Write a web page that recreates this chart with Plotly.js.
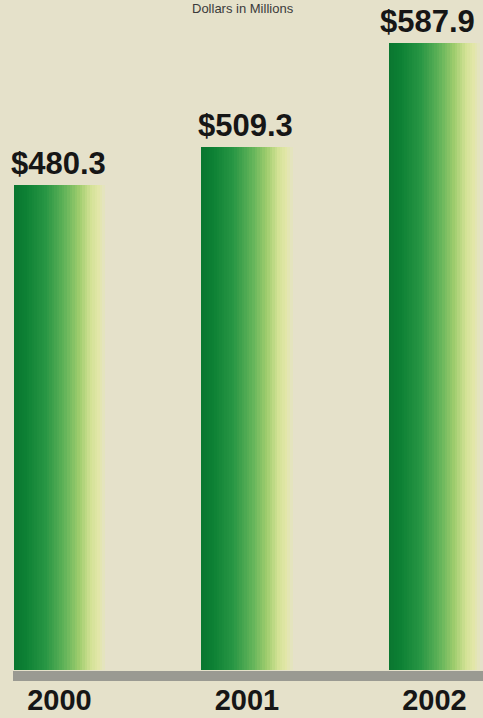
<!DOCTYPE html>
<html><head><meta charset="utf-8">
<script src="https://cdn.plot.ly/plotly-3.0.1.min.js"></script>
<style>html,body{margin:0;padding:0;background:#e5e1ca;}#chart{width:483px;height:718px;}</style>
</head><body><div id="chart"></div>
<script>
// ---- data ----
var categories = ['2000', '2001', '2002'];
var values = [480.3, 509.3, 587.9];
var valueLabels = ['$480.3', '$509.3', '$587.9'];
var chartTitle = 'Dollars in Millions';

// ---- style ----
var bg = '#e5e1ca';
var stops = [
  [0.00, [10, 118, 48]],
  [0.12, [12, 128, 52]],
  [0.35, [40, 150, 68]],
  [0.55, [95, 178, 88]],
  [0.72, [160, 205, 110]],
  [0.85, [212, 226, 150]],
  [0.93, [226, 230, 168]],
  [1.00, [228, 227, 196]]
];
function colorAt(t) {
  for (var i = 1; i < stops.length; i++) {
    if (t <= stops[i][0]) {
      var a = stops[i - 1], b = stops[i];
      var f = (t - a[0]) / (b[0] - a[0]);
      var c = a[1].map(function (v, k) { return Math.round(v + (b[1][k] - v) * f); });
      return 'rgb(' + c.join(',') + ')';
    }
  }
  return 'rgb(' + stops[stops.length - 1][1].join(',') + ')';
}

var xs = categories.map(function (c, i) { return i; });
var barW = 0.485;
var N = 36;
var traces = [];
for (var s = 0; s < N; s++) {
  traces.push({
    type: 'bar',
    x: xs,
    y: values,
    width: xs.map(function () { return barW / N * 1.08; }),
    offset: xs.map(function () { return -barW / 2 + s * barW / N; }),
    marker: { color: colorAt((s + 0.5) / N), line: { width: 0 } },
    hoverinfo: 'skip',
    showlegend: false
  });
}

var annotations = values.map(function (v, i) {
  return {
    x: xs[i], y: v, xref: 'x', yref: 'y',
    text: '<b>' + valueLabels[i] + '</b>',
    showarrow: false, yanchor: 'bottom', yshift: 2,
    xshift: i === 2 ? -7 : -1,
    font: { family: 'Liberation Sans, Arial, sans-serif', size: 31, color: '#161616' }
  };
});
annotations.push({
  x: 0.503, y: 1, xref: 'paper', yref: 'paper',
  text: chartTitle, showarrow: false, yanchor: 'top', yshift: 1,
  font: { family: 'Liberation Sans, Arial, sans-serif', size: 13, color: '#3a3a3a' }
});

var layout = {
  width: 483, height: 718,
  margin: { l: 0, r: 0, t: 0, b: 48 },
  paper_bgcolor: bg, plot_bgcolor: bg,
  barmode: 'overlay', bargap: 0,
  xaxis: {
    range: [-0.317, 2.259], tickvals: xs,
    ticktext: categories.map(function (c) { return '<b>' + c + '</b>'; }),
    showgrid: false, zeroline: false, showline: false, ticks: '',
    ticklabelstandoff: 10,
    tickfont: { family: 'Liberation Sans, Arial, sans-serif', size: 29, color: '#161616' },
    fixedrange: true
  },
  yaxis: {
    range: [112.8, 620.5], showgrid: false, zeroline: false, showline: false,
    showticklabels: false, ticks: '', fixedrange: true
  },
  shapes: [{
    type: 'rect', xref: 'paper', yref: 'paper',
    x0: 13 / 483, x1: 1, y0: 0, y1: 0, ysizemode: 'pixel', yanchor: 0,
    layer: 'above', line: { width: 0 }, fillcolor: '#9a9a92'
  }],
  annotations: annotations,
  showlegend: false
};
layout.shapes[0].y0 = -11; layout.shapes[0].y1 = -1;

Plotly.newPlot('chart', traces, layout, { displayModeBar: false, staticPlot: true });
</script></body></html>
